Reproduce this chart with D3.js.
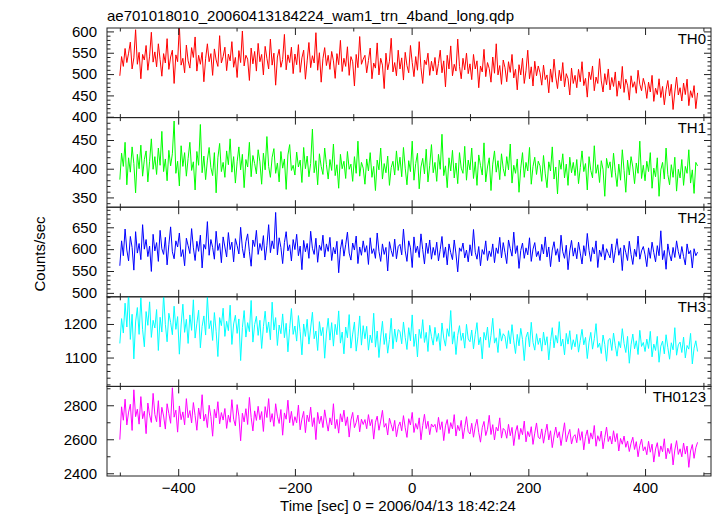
<!DOCTYPE html>
<html><head><meta charset="utf-8">
<script src="https://cdn.jsdelivr.net/npm/d3@7"></script>
<style>
body{margin:0;background:#fff}
svg{display:block}
text{font-family:"Liberation Sans",Arial,Helvetica,sans-serif;fill:#000}
</style>
</head><body>
<svg id="chart" width="717" height="516"></svg>
<script>
const TITLE = "ae701018010_20060413184224_wam1_trn_4band_long.qdp";
const X_LABEL = "Time [sec] 0 = 2006/04/13 18:42:24";
const Y_LABEL = "Counts/sec";
const T_START = -500, T_STEP = 3;
const X_DOMAIN = [-522, 513];
const X_MAJOR = [-400, -200, 0, 200, 400];
const X_MINOR = [-500, -300, -100, 100, 300, 500];

const BANDS = ["TH0", "TH1", "TH2", "TH3", "TH0123"];
const COLORS = ["#ff0000", "#00ff00", "#0000ff", "#00ffff", "#ff00ff"];
const Y_DOMAINS = [[398, 608], [333, 489], [491, 696], [1014, 1281], [2384, 2911]];
const Y_MAJOR = [[400, 450, 500, 550, 600], [350, 400, 450], [500, 550, 600, 650], [1100, 1200], [2400, 2600, 2800]];
const Y_MINOR_STEP = [10, 10, 10, 20, 100];

const th0 = [
496,541,518,560,527,549,575,512,538,604,523,551,489,546,533,567,509,542,598,528,
552,517,571,534,495,548,526,583,511,540,556,478,545,529,612,521,537,503,568,531,
514,562,539,587,507,544,523,551,482,536,571,529,548,497,559,533,518,590,526,541,
563,508,547,531,576,516,539,492,555,527,601,519,544,535,485,561,524,553,507,572,
529,546,498,565,537,512,582,521,549,474,540,558,516,534,593,510,545,527,563,501,
547,522,569,504,538,556,488,531,574,515,543,526,597,509,550,481,536,562,520,544,
511,553,531,490,548,522,579,506,537,518,564,497,541,529,472,546,515,588,523,535,
544,503,532,561,489,526,514,573,498,537,521,466,549,510,530,584,505,527,496,556,
512,538,486,551,520,503,567,527,494,541,509,576,515,478,533,522,549,497,530,507,
539,498,525,556,503,531,470,544,512,566,496,523,507,582,518,489,537,510,549,501,
524,487,546,512,531,468,519,505,558,494,527,513,481,540,502,571,498,520,476,533,
515,482,529,504,546,491,511,463,522,498,537,478,508,556,489,517,472,530,496,519,
503,474,521,487,498,456,512,481,535,493,466,509,484,527,470,501,489,451,514,478,
497,468,511,482,529,473,490,446,505,487,519,461,493,478,536,484,458,501,475,512,
463,492,471,505,448,484,466,518,457,488,474,439,496,469,482,455,509,476,461,490,
474,443,481,458,497,436,467,452,489,445,471,428,463,485,449,476,417,458,493,451,
468,437,479,452,488,426,461,445,473,419,456];

const th1 = [
381,427,404,446,372,419,394,438,409,358,425,400,441,387,416,431,377,413,452,399,
421,390,436,406,465,395,417,379,432,405,426,483,392,413,370,440,404,428,387,418,
446,397,412,363,430,406,477,393,422,381,415,437,402,388,428,358,419,444,395,411,
385,431,407,452,394,421,375,412,438,398,425,367,416,403,446,386,423,409,391,433,
412,373,427,398,456,404,385,420,435,392,410,377,430,401,417,364,424,442,397,406,
389,429,403,415,376,437,400,422,386,409,469,393,414,372,426,404,390,436,407,382,
416,397,443,388,407,366,425,400,413,383,430,399,408,378,421,392,448,387,411,401,
373,417,396,428,385,404,362,415,398,436,382,409,393,422,371,402,413,389,431,397,
420,386,437,401,372,414,395,448,380,409,427,365,403,418,391,434,377,406,442,393,
411,378,425,399,460,388,405,367,419,396,432,384,410,374,428,401,392,439,380,415,
398,436,383,412,371,424,406,389,445,377,403,419,362,408,431,394,414,381,426,400,
387,421,398,443,375,406,392,417,359,401,428,385,411,396,437,373,404,420,390,413,
405,378,423,391,367,412,396,438,382,403,356,415,399,426,384,408,371,420,393,411,
388,416,374,402,431,395,409,363,421,397,384,440,392,407,376,414,399,352,418,401,
412,385,427,394,369,408,380,433,397,359,415,389,421,403,374,410,392,448,383,406,
379,413,395,428,366,401,386,419,352,398,411,382,436,390,372,407,385,420,361,399,
384,416,371,404,392,433,375,398,357,411,405];

const th2 = [
562,619,585,646,598,573,629,604,552,640,591,613,576,656,600,622,583,607,549,634,
596,615,572,643,601,588,627,564,610,651,594,578,619,605,637,583,599,562,625,608,
590,647,603,574,618,595,632,557,611,600,663,586,622,604,577,641,597,613,569,628,
605,582,638,599,616,571,624,608,589,650,602,580,617,635,594,561,621,606,643,588,
613,597,631,575,608,656,592,619,601,684,587,626,604,567,615,640,596,610,573,622,
599,634,585,607,553,620,594,613,579,641,602,588,625,570,609,597,632,582,612,595,
627,574,604,589,618,546,600,622,584,610,639,591,575,614,598,630,567,605,586,619,
593,608,565,626,590,601,579,637,595,572,612,588,604,550,617,597,583,623,578,606,
611,587,646,596,572,619,603,558,628,592,607,581,635,599,566,614,590,621,577,604,
586,616,573,599,629,581,605,564,612,592,576,621,589,548,603,595,614,580,598,571,
610,585,645,593,577,606,562,599,588,619,574,596,583,612,569,603,590,627,580,615,
592,567,621,601,584,639,590,608,556,597,614,579,603,587,626,572,600,615,583,595,
574,611,589,628,582,605,560,598,617,586,601,571,632,594,579,609,553,596,620,584,
603,578,616,591,566,608,585,636,597,572,604,589,619,558,598,583,611,575,601,590,
580,612,569,597,624,586,603,551,609,592,574,618,588,565,600,583,630,577,596,606,
587,560,603,579,616,592,571,608,585,642,576,597,554,612,589,573,604,581,619,594,
578,606,583,564,612,589,597,557,601,585,593];

const th3 = [
1142,1216,1173,1262,1191,1295,1154,1229,1096,1206,1249,1169,1278,1183,1132,1237,1196,1266,1160,1211,
1188,1243,1121,1220,1176,1288,1199,1147,1232,1205,1168,1253,1184,1222,1110,1197,1259,1175,1214,1142,
1227,1181,1272,1158,1202,1241,1129,1193,1224,1167,1283,1186,1210,1151,1234,1178,1103,1219,1195,1247,
1163,1208,1180,1256,1139,1200,1226,1172,1215,1091,1189,1240,1161,1204,1177,1270,1146,1198,1223,1166,
1211,1127,1192,1238,1174,1206,1153,1265,1182,1219,1136,1197,1171,1230,1159,1202,1117,1187,1246,1169,
1194,1149,1225,1177,1108,1200,1163,1214,1140,1188,1235,1156,1179,1121,1207,1165,1190,1098,1173,1217,
1152,1204,1134,1199,1168,1239,1143,1176,1111,1191,1159,1228,1128,1170,1206,1119,1162,1224,1137,1195,
1156,1193,1122,1167,1144,1232,1131,1179,1100,1161,1208,1139,1172,1113,1154,1217,1126,1185,1146,1183,
1178,1141,1206,1160,1124,1189,1150,1227,1133,1170,1102,1184,1157,1213,1145,1175,1118,1196,1162,1137,
1190,1148,1172,1121,1203,1158,1134,1186,1163,1240,1140,1177,1109,1166,1195,1151,1173,1128,1199,1155,
1147,1182,1126,1169,1204,1138,1161,1096,1175,1152,1191,1130,1166,1217,1143,1159,1115,1186,1149,1171,
1163,1127,1180,1141,1198,1150,1112,1169,1135,1187,1154,1091,1160,1176,1132,1205,1145,1122,1171,1139,
1158,1119,1176,1137,1162,1093,1148,1189,1129,1166,1143,1207,1134,1155,1108,1172,1140,1180,1124,1153,
1132,1169,1116,1151,1184,1138,1160,1097,1146,1175,1125,1156,1201,1130,1143,1112,1167,1139,1089,1152,
1157,1121,1173,1135,1104,1148,1129,1186,1142,1115,1163,1083,1138,1170,1126,1150,1109,1181,1133,1145,
1118,1155,1127,1178,1102,1140,1121,1163,1086,1134,1149,1111,1168,1130,1095,1144,1123,1189,1107,1138,
1146,1115,1161,1099,1136,1125,1172,1081,1128,1150,1118];

const th0123 = [
2598,2791,2712,2836,2684,2760,2806,2652,2891,2733,2777,2689,2851,2721,2765,2633,2813,2742,2699,2870,
2746,2703,2827,2672,2788,2737,2660,2809,2751,2694,2903,2730,2771,2642,2796,2715,2761,2685,2839,2727,
2769,2696,2816,2739,2653,2784,2720,2862,2707,2748,2669,2800,2734,2618,2776,2725,2821,2691,2757,2713,
2781,2664,2742,2700,2833,2718,2679,2804,2736,2591,2753,2702,2780,2687,2846,2729,2649,2767,2711,2794,
2715,2763,2646,2792,2728,2839,2701,2751,2676,2809,2736,2693,2775,2624,2755,2718,2830,2697,2764,2681,
2733,2697,2801,2656,2719,2764,2639,2742,2703,2789,2675,2727,2598,2758,2692,2736,2669,2773,2707,2648,
2726,2684,2809,2663,2717,2636,2750,2702,2771,2680,2732,2613,2713,2758,2668,2699,2742,2644,2718,2687,
2716,2662,2745,2680,2717,2601,2700,2736,2653,2707,2770,2671,2693,2625,2724,2686,2648,2711,2615,2675,
2702,2650,2739,2668,2611,2721,2684,2758,2640,2693,2659,2726,2597,2681,2747,2663,2706,2627,2690,2672,
2688,2641,2729,2657,2703,2592,2679,2716,2634,2698,2661,2745,2619,2682,2650,2711,2603,2670,2733,2646,
2631,2694,2612,2677,2718,2640,2583,2668,2705,2622,2659,2741,2628,2686,2596,2671,2649,2726,2607,2664,
2652,2606,2688,2621,2670,2563,2643,2681,2599,2664,2627,2707,2585,2646,2615,2674,2570,2636,2696,2612,
2603,2661,2577,2638,2689,2596,2650,2551,2620,2672,2609,2644,2563,2631,2697,2585,2626,2658,2572,2615,
2627,2580,2663,2594,2645,2538,2617,2655,2574,2638,2601,2681,2559,2621,2589,2648,2544,2611,2672,2587,
2618,2572,2650,2586,2634,2531,2605,2571,2619,2553,2590,2528,2577,2612,2540,2586,2497,2563,2601,2532,
2556,2509,2588,2524,2571,2466,2543,2580,2498,2561,2527,2603,2485,2548,2516,2575,2449,2537,2592,2511,
2544,2497,2578,2513,2560,2435,2531,2569,2488,2550,2582];

const SERIES = [th0, th1, th2, th3, th0123];

// layout
const L = 107, R = 711, TOP = 28, BOT = 476;
const PH = (BOT - TOP) / BANDS.length;
const FS = 15;
const svg = d3.select("#chart");
const x = d3.scaleLinear().domain(X_DOMAIN).range([L, R]);

svg.append("text").attr("x", L).attr("y", 20.5).attr("font-size", FS).text(TITLE);
const defs = svg.append("defs");

BANDS.forEach((name, i) => {
  const y0 = TOP + i * PH, y1 = y0 + PH;
  const y = d3.scaleLinear().domain(Y_DOMAINS[i]).range([y1, y0]);
  const g = svg.append("g");

  defs.append("clipPath").attr("id", "clip" + i)
    .append("rect").attr("x", L).attr("y", y0).attr("width", R - L).attr("height", PH);

  const data = SERIES[i].map((v, k) => ({ t: T_START + k * T_STEP, v }));
  const line = d3.line().x(d => x(d.t)).y(d => y(d.v));
  g.append("path").datum(data)
    .attr("clip-path", "url(#clip" + i + ")")
    .attr("fill", "none").attr("stroke", COLORS[i]).attr("stroke-width", 1)
    .attr("d", line);

  const [d0, d1] = Y_DOMAINS[i];
  const step = Y_MINOR_STEP[i];
  const minor = d3.range(Math.ceil(d0 / step) * step, d1 + 1e-9, step).filter(v => !Y_MAJOR[i].includes(v));

  const axL = g.append("g").attr("transform", `translate(${L},0)`)
    .call(d3.axisLeft(y).tickValues(Y_MAJOR[i]).tickSize(-7).tickPadding(10).tickFormat(d3.format("d")));
  axL.selectAll("text").attr("font-size", FS).attr("font-family", '"Liberation Sans",Arial,sans-serif');
  g.append("g").attr("transform", `translate(${L},0)`)
    .call(d3.axisLeft(y).tickValues(minor).tickSize(-3.5).tickFormat(""));
  g.append("g").attr("transform", `translate(${R},0)`)
    .call(d3.axisRight(y).tickValues(Y_MAJOR[i]).tickSize(-7).tickFormat(""));
  g.append("g").attr("transform", `translate(${R},0)`)
    .call(d3.axisRight(y).tickValues(minor).tickSize(-3.5).tickFormat(""));

  g.append("g").attr("transform", `translate(0,${y0})`)
    .call(d3.axisTop(x).tickValues(X_MAJOR).tickSize(-7).tickFormat(""));
  g.append("g").attr("transform", `translate(0,${y0})`)
    .call(d3.axisTop(x).tickValues(X_MINOR).tickSize(-3.5).tickFormat(""));
  const axB = g.append("g").attr("transform", `translate(0,${y1})`)
    .call(d3.axisBottom(x).tickValues(X_MAJOR).tickSize(-7).tickPadding(6)
      .tickFormat(i === BANDS.length - 1 ? d3.format("d") : ""));
  axB.selectAll("text").attr("font-size", FS).attr("font-family", '"Liberation Sans",Arial,sans-serif');
  g.append("g").attr("transform", `translate(0,${y1})`)
    .call(d3.axisBottom(x).tickValues(X_MINOR).tickSize(-3.5).tickFormat(""));

  g.selectAll(".domain").remove();
  g.selectAll(".tick line").attr("stroke", "#222");

  g.append("rect").attr("x", L).attr("y", y0).attr("width", R - L).attr("height", PH)
    .attr("fill", "none").attr("stroke", "#222").attr("stroke-width", 1);

  g.append("text").attr("x", R - 5).attr("y", y0 + 15.5).attr("text-anchor", "end")
    .attr("font-size", FS).text(name);
});

svg.append("text").attr("x", 398).attr("y", 511).attr("text-anchor", "middle")
  .attr("font-size", FS).text(X_LABEL);
svg.append("text").attr("transform", "translate(45,254) rotate(-90)")
  .attr("text-anchor", "middle").attr("font-size", FS).text(Y_LABEL);
</script>
</body></html>
